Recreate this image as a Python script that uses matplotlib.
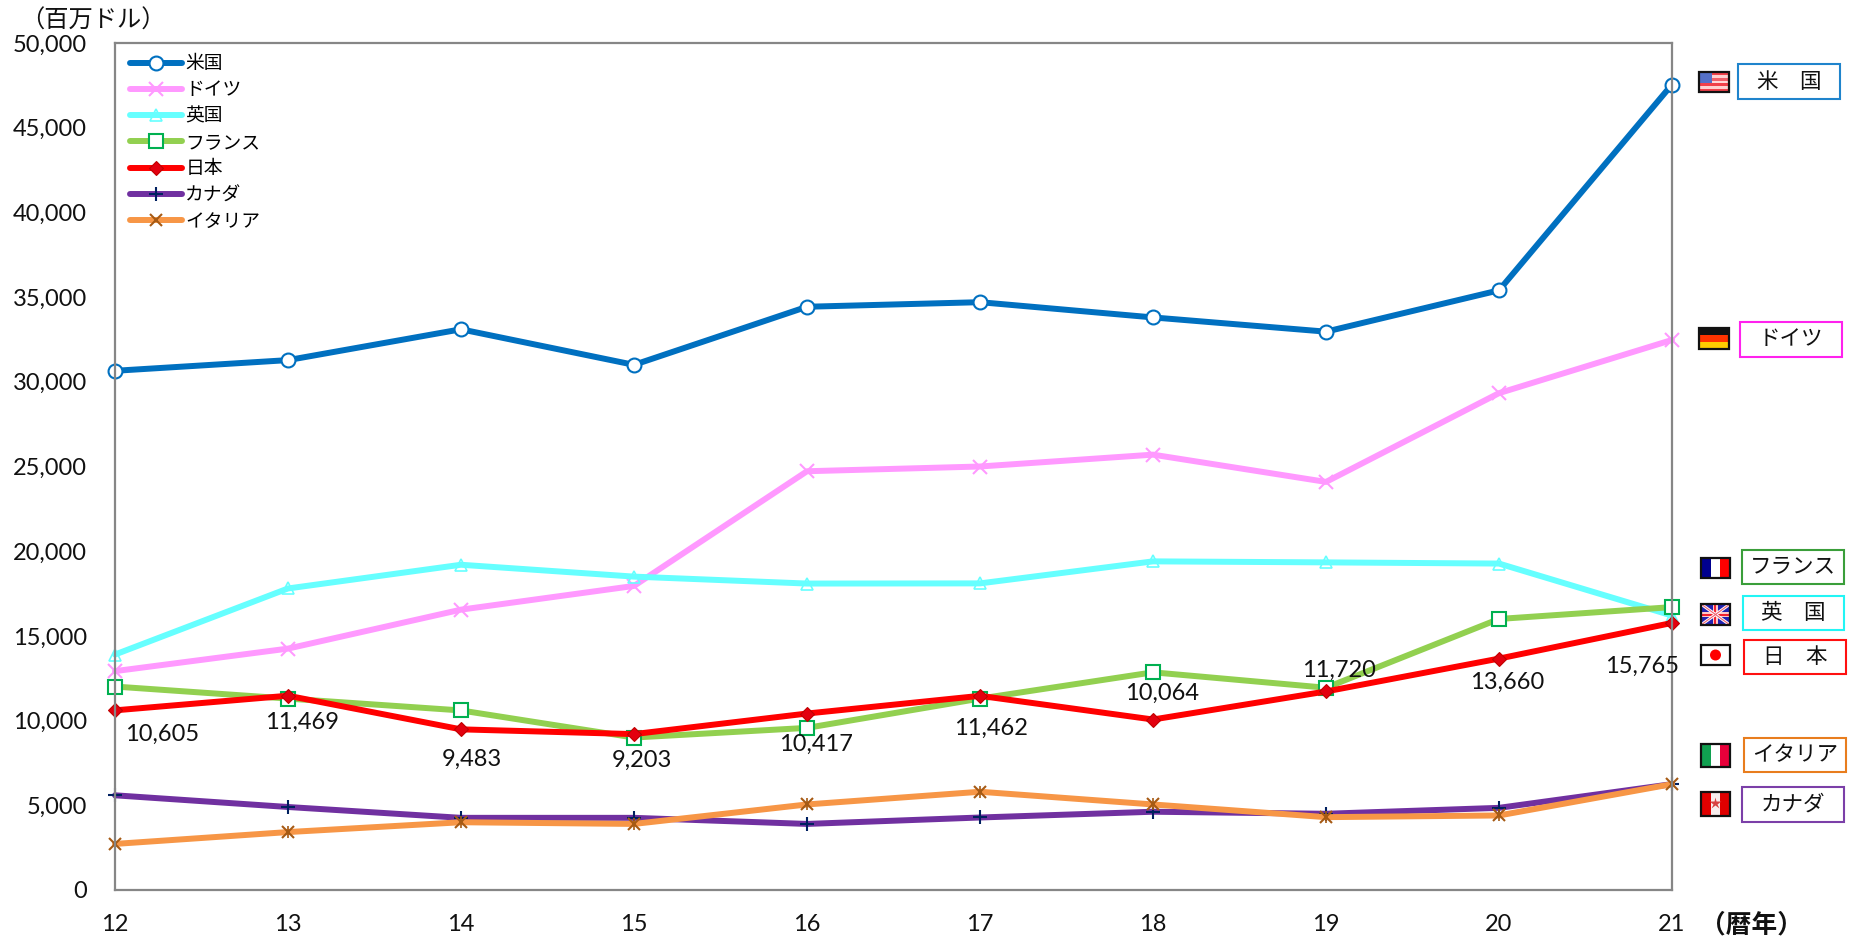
import numpy as np
import matplotlib
matplotlib.use("Agg")

import matplotlib.pyplot as plt
from matplotlib.patches import Rectangle, Circle

plt.rcParams["font.family"] = ["Lato", "Noto Sans CJK JP", "DejaVu Sans"]

W, H = 1856, 944
L, R, T, B = 115, 1672, 43, 890
JP = ["Noto Sans CJK JP", "DejaVu Sans"]

years = ["12", "13", "14", "15", "16", "17", "18", "19", "20", "21"]
yticks = [0, 5000, 10000, 15000, 20000, 25000, 30000, 35000, 40000, 45000, 50000]

usa = [30650, 31280, 33100, 31000, 34430, 34700, 33800, 32960, 35400, 47550]
germany = [12920, 14250, 16550, 17950, 24720, 25000, 25700, 24090, 29330, 32470]
uk = [13900, 17800, 19200, 18500, 18090, 18100, 19400, 19340, 19270, 16200]
france = [12010, 11300, 10600, 9000, 9570, 11300, 12850, 11940, 16000, 16700]
japan = [10605, 11469, 9483, 9203, 10417, 11462, 10064, 11720, 13660, 15765]
canada = [5590, 4900, 4260, 4260, 3900, 4280, 4620, 4500, 4850, 6250]
italy = [2720, 3420, 4000, 3900, 5050, 5800, 5050, 4300, 4400, 6250]

# pixel offsets of the japan value labels from their points
label_dx = [47, 14, 11, 8, 9, 11, 9, 13, 8, -30]
label_dy = [-24, -27, -30, -26, -31, -33, 26, 21, -24, -43]

fig = plt.figure(figsize=(W / 100, H / 100), dpi=100)
ax = fig.add_axes([L / W, 1 - B / H, (R - L) / W, (B - T) / H])
x = np.arange(len(years))

series = [
    ("米国", usa, "#0070C0", "o", "white", "#0070C0", 10, 1.5),
    ("ドイツ", germany, "#FF99FF", "x", "none", "#FF99FF", 10, 1.5),
    ("英国", uk, "#66FFFF", "^", "none", "#66FFFF", 9, 1.2),
    ("フランス", france, "#92D050", "s", "white", "#00B050", 9.5, 1.5),
    ("日本", japan, "#FF0000", "D", "#E3000F", "#C00000", 7.5, 0.8),
    ("カナダ", canada, "#7030A0", "+", "none", "#002060", 10, 1.5),
    ("イタリア", italy, "#F79646", "x", "none", "#A65A14", 9, 1.5),
]
for name, values, color, marker, face, edge, size, mew in series:
    ax.plot(x, values, color=color, lw=4.3, marker=marker, ms=size,
            mfc=face, mec=edge, mew=mew, label=name, clip_on=False,
            solid_capstyle="round")
# the italy asterisk has a third stroke
ax.plot(x, italy, ls="none", marker="|", ms=9, mec="#A65A14", mew=1.2, clip_on=False)

for i, v in enumerate(japan):
    ax.annotate(f"{v:,}", (x[i], v), xytext=(label_dx[i], label_dy[i]),
                textcoords="offset pixels", ha="center", va="center",
                fontsize=17, color="#111111")

ax.set_xlim(0, len(years) - 1)
ax.set_ylim(0, 50000)
ax.set_xticks(x, years)
ax.set_yticks(yticks, [f"{t:,}" for t in yticks])
ax.tick_params(length=0, labelsize=17, colors="#111111")
ax.tick_params(axis="x", pad=17)
ax.tick_params(axis="y", pad=20)
for spine in ax.spines.values():
    spine.set_color("#868686")
    spine.set_linewidth(1.6)

leg = ax.legend(loc="upper left", bbox_to_anchor=(0.0096, 0.988), frameon=False,
                prop={"family": JP, "size": 13.5}, handlelength=2.8,
                handletextpad=0.15, labelspacing=0.28, borderpad=0, borderaxespad=0)

# overlay in reference pixels for the side boxes and flags
ov = fig.add_axes([0, 0, 1, 1])
ov.set_xlim(0, W)
ov.set_ylim(H, 0)
ov.axis("off")
ov.patch.set_alpha(0)

ov.text(20, 21, "（百万ドル）", family=JP, fontsize=17.5, ha="left", va="center", color="#111111")
ov.text(1700, 925, "（暦年）", family=JP, fontsize=18.5, fontweight="bold", ha="left", va="center", color="#111111")

boxes = [
    ("米　国", 1738, 64, 1840, 99, "#1F84CC"),
    ("ドイツ", 1740, 322, 1842, 357, "#FF22EE"),
    ("フランス", 1742, 550, 1844, 584, "#3A9E3A"),
    ("英　国", 1743, 596, 1844, 630, "#22F5F5"),
    ("日　本", 1744, 640, 1846, 674, "#FF1010"),
    ("イタリア", 1744, 738, 1846, 772, "#E87D1E"),
    ("カナダ", 1742, 787, 1844, 822, "#7B3FA8"),
]
for text, x0, y0, x1, y1, color in boxes:
    ov.add_patch(Rectangle((x0, y0), x1 - x0, y1 - y0, fc="white", ec=color, lw=1.5))
    ov.text((x0 + x1) / 2, (y0 + y1) / 2, text, family=JP, fontsize=15.5,
            ha="center", va="center", color="#111111")


def flag_frame(x0, y0, x1, y1):
    ov.add_patch(Rectangle((x0, y0), x1 - x0, y1 - y0, fc="none", ec="#111111", lw=1.6, zorder=5))


def bands_v(x0, y0, x1, y1, colors):
    w = (x1 - x0) / len(colors)
    for i, c in enumerate(colors):
        ov.add_patch(Rectangle((x0 + i * w, y0), w, y1 - y0, fc=c, ec="none"))
    flag_frame(x0, y0, x1, y1)


def bands_h(x0, y0, x1, y1, colors):
    h = (y1 - y0) / len(colors)
    for i, c in enumerate(colors):
        ov.add_patch(Rectangle((x0, y0 + i * h), x1 - x0, h, fc=c, ec="none"))
    flag_frame(x0, y0, x1, y1)


# usa
bands_h(1699, 72, 1729, 92, ["#F0404A", "#FFD0D0", "#F0606A", "#FFD8D8", "#F0404A", "#FFD0D0", "#F0404A"])
ov.add_patch(Rectangle((1700, 73), 12, 10, fc="#5470C8", ec="none"))
# germany
bands_h(1699, 328, 1729, 349, ["#111111", "#FF3300", "#FFCC00"])
# france
bands_v(1701, 558, 1730, 578, ["#00008F", "white", "#FF0000"])
# uk
ov.add_patch(Rectangle((1701, 604), 29, 21, fc="#2020B0", ec="none"))
ov.plot([1701, 1730], [604, 625], color="white", lw=2.2)
ov.plot([1701, 1730], [625, 604], color="white", lw=2.2)
ov.plot([1701, 1730], [604, 625], color="#F06070", lw=0.8)
ov.plot([1701, 1730], [625, 604], color="#F06070", lw=0.8)
ov.add_patch(Rectangle((1701, 612), 29, 5, fc="#FFC8C8", ec="none"))
ov.add_patch(Rectangle((1713, 604), 5, 21, fc="#FFC8C8", ec="none"))
ov.add_patch(Rectangle((1701, 613.5), 29, 2, fc="#F02030", ec="none"))
ov.add_patch(Rectangle((1714.5, 604), 2, 21, fc="#F02030", ec="none"))
flag_frame(1701, 604, 1730, 625)
# japan
ov.add_patch(Rectangle((1701, 645), 29, 20, fc="white", ec="none"))
ov.add_patch(Circle((1715.5, 655), 5.5, fc="#FF0000", ec="none"))
flag_frame(1701, 645, 1730, 665)
# italy
bands_v(1701, 744, 1730, 767, ["#10A050", "white", "#E8003A"])
# canada
bands_v(1701, 792, 1730, 816, ["#E00000", "#F7ECEC", "#E00000"])
ov.plot([1715.5], [803], marker="*", ms=9, color="#D84040", mec="none")

fig.savefig("out.png", dpi=100)
